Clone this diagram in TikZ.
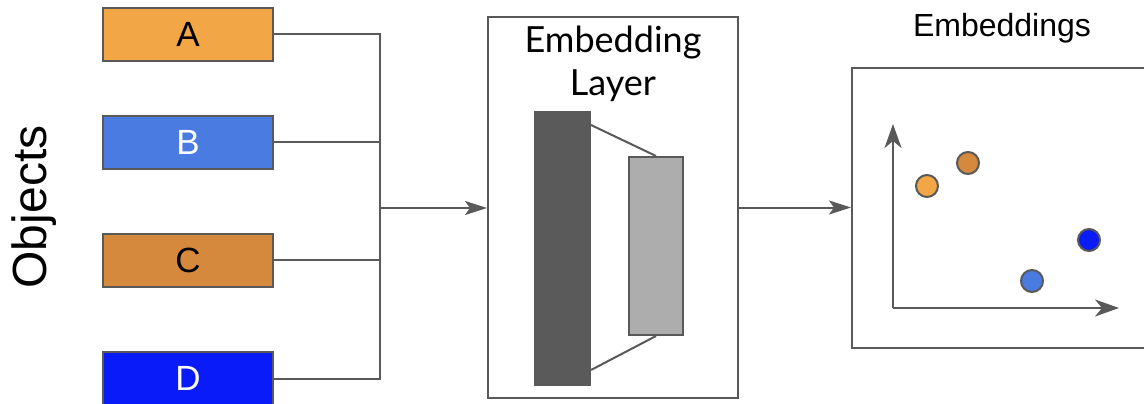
\documentclass[tikz,border=0pt]{standalone}
\usepackage{fontspec}
\setmainfont{Liberation Sans}
\newfontfamily\latofont{Lato}
\usetikzlibrary{arrows.meta}
\definecolor{edgegray}{HTML}{595959}
\definecolor{objA}{HTML}{F2A645}
\definecolor{objB}{HTML}{4A7BE1}
\definecolor{objC}{HTML}{D4893C}
\definecolor{objD}{HTML}{0A1BFA}
\definecolor{darkbar}{HTML}{5A5A5A}
\definecolor{lightbar}{HTML}{ADADAD}
\newcommand{\fs}[1]{\fontsize{#1}{1.3\dimexpr#1pt\relax}\selectfont}

\begin{document}
\begin{tikzpicture}[x=1pt,y=-1pt,line width=2pt,draw=edgegray,
    obj/.style={draw=edgegray,minimum width=170pt,minimum height=53pt,inner sep=0pt,font=\fs{35}},
    bar/.style={draw=edgegray,inner sep=0pt},
    dot/.style={circle,draw=edgegray,minimum size=22pt,inner sep=0pt},
    flow/.style={-{Stealth[length=22pt,width=14pt,inset=5pt]}},
    axis/.style={-{Stealth[length=24pt,width=17pt,inset=7pt]}}]
  \useasboundingbox (0,0) rectangle (1144,404);

  % the objects
  \node[rotate=90,font=\fs{48}] (objs) at (34,207) {Objects};
  \node[obj,fill=objA] (A) at (188,34.5) {A};
  \node[obj,fill=objB,text=white] (B) at (188,142) {B};
  \node[obj,fill=objC] (C) at (188,260) {C};
  \node[obj,fill=objD,text=white] (D) at (188,378.5) {D};

  \coordinate (join) at (380,208);
  \draw (A.east) -| (join) |- (D.east);
  \draw (B.east) -- (B.east -| join);
  \draw (C.east) -- (C.east -| join);

  % embedding layer
  \node[draw=edgegray,minimum width=250pt,minimum height=381pt,inner sep=0pt] (layer) at (613,207.5) {};
  \node[font=\latofont\fs{36},align=center] (ltitle) at (613,64) {Embedding\\[-4pt]Layer};
  \node[bar,fill=darkbar,minimum width=55pt,minimum height=273pt] (big) at (562.5,248.5) {};
  \node[bar,fill=lightbar,minimum width=54pt,minimum height=178pt] (small) at (656,246) {};
  \draw ([yshift=-14pt]big.north east) -- (small.north);
  \draw ([yshift=16pt]big.south east) -- (small.south);

  \draw[flow] (join) -- (join -| layer.west);

  % embedding space
  \node[font=\fs{32}] (ptitle) at (1002,28) {Embeddings};
  \node[draw=edgegray,minimum width=320pt,minimum height=280pt,inner sep=0pt] (plot) at (1012,208) {};
  \draw[flow] (layer.east) -- (layer.east -| plot.west);

  \coordinate (orig) at (893,308);
  \coordinate (ytip) at (893,124);
  \coordinate (xtip) at (1119,308);
  \draw[axis] (orig) -- (ytip);
  \draw[axis] (orig) -- (xtip);

  \node[dot,fill=objA] (pA) at (927,186) {};
  \node[dot,fill=objC] (pC) at (968,163) {};
  \node[dot,fill=objB] (pB) at (1032,281) {};
  \node[dot,fill=objD] (pD) at (1089,240) {};
\end{tikzpicture}
\end{document}
